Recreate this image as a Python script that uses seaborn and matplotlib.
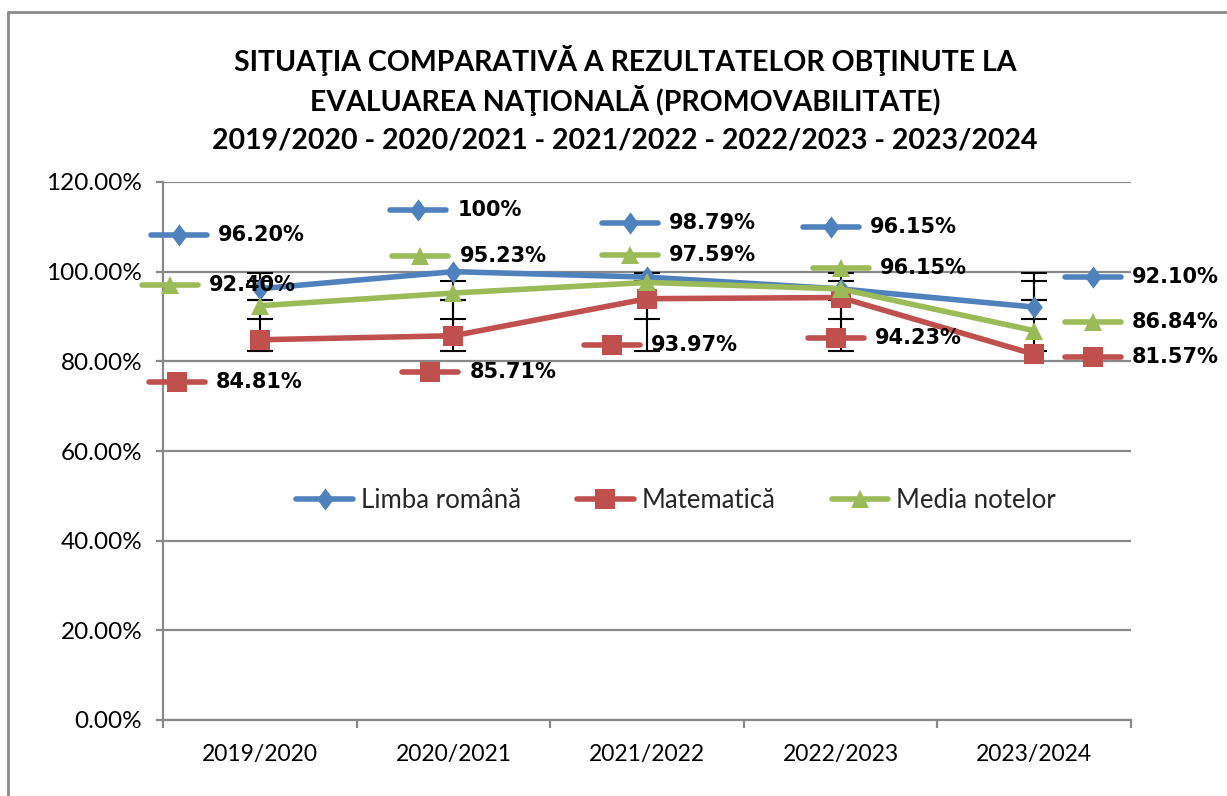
# -*- coding: utf-8 -*-

import numpy as np;
import pandas as pd;
import seaborn as sns;
import matplotlib.pyplot as plt;
from matplotlib.lines import Line2D;

#===============================================================================
# Date
ani           = ["2019/2020", "2020/2021", "2021/2022", "2022/2023", "2023/2024"];
limba_romana  = [96.20, 100.00, 98.79, 96.15, 92.10];
matematica    = [84.81, 85.71, 93.97, 94.23, 81.57];
media_notelor = [92.40, 95.23, 97.59, 96.15, 86.84];
serii         = ["Limba română", "Matematică", "Media notelor"];

titlu = ["SITUAŢIA COMPARATIVĂ A REZULTATELOR OBŢINUTE LA",
         "EVALUAREA NAŢIONALĂ (PROMOVABILITATE)",
         "2019/2020 - 2020/2021 - 2021/2022 - 2022/2023 - 2023/2024"];

#===============================================================================
# Stil
culori   = {"Limba română": "#4F81BD", "Matematică": "#C0504D", "Media notelor": "#9BBB59"};
romb     = [(0, 1), (0.75, 0), (0, -1), (-0.75, 0)];
markeri  = {"Limba română": romb, "Matematică": "s", "Media notelor": "^"};
marimi   = {"Limba română": 16, "Matematică": 15, "Media notelor": 13.5};
gri      = "#898989";
lw_serie = 4.0;

# pozitia etichetelor (pixeli, fata de punct): (dx, dy) al textului
deplasari = {
    "Limba română":  [(-42, 54), (4, 62), (22, 54), (29, 62), (98, 30)],
    "Matematică":    [(-44, -42), (16, -36), (4, -46), (34, -40), (98, -3)],
    "Media notelor": [(-51, 21), (6, 37), (22, 27), (39, 21), (98, 9)],
};

#===============================================================================
sns.set_style("white");
plt.rcParams["font.family"] = ["Lato", "DejaVu Sans"];

W, H = 1227, 796;
fig = plt.figure(figsize=(W/100, H/100), dpi=100);
ax  = fig.add_axes([163/W, 1-720/H, (1131-163)/W, (720-182)/H]);

df = pd.DataFrame({
    "idx":     list(range(len(ani)))*3,
    "valoare": limba_romana + matematica + media_notelor,
    "serie":   np.repeat(serii, len(ani)),
});

sns.lineplot(data=df, x="idx", y="valoare", hue="serie", style="serie",
             hue_order=serii, style_order=serii, palette=culori,
             markers=markeri, dashes=False, linewidth=lw_serie,
             markeredgewidth=0, legend=False, ax=ax, zorder=3);

for ln, s in zip(ax.lines, serii):
    ln.set_markersize(marimi[s]);

# bare de eroare tip Excel (deviatie standard, centrate pe media seriei)
for valori in (limba_romana, matematica, media_notelor):
    m  = np.mean(valori);
    sd = np.std(valori, ddof=1);
    ax.errorbar(range(len(ani)), [m]*len(ani), yerr=sd, fmt="none",
                ecolor="black", elinewidth=1.5, capsize=9.5, capthick=1.5, zorder=2.5);

# axe
ax.set_xlim(-0.5, len(ani)-0.5);
ax.set_ylim(0, 120);
ax.set_yticks(range(0, 121, 20));
ax.set_yticklabels([f"{v:.2f}%" for v in range(0, 121, 20)]);
ax.set_xticks(range(len(ani)));
ax.set_xticklabels(ani);
ax.set_xticks(np.arange(-0.5, len(ani), 1.0), minor=True);
ax.set_xlabel("");
ax.set_ylabel("");

ax.yaxis.grid(True, color=gri, linewidth=1.6);
ax.xaxis.grid(False);
ax.set_axisbelow(True);
for sp in ("top", "right"):
    ax.spines[sp].set_visible(False);
for sp in ("left", "bottom"):
    ax.spines[sp].set_color(gri);
    ax.spines[sp].set_linewidth(1.6);

ax.tick_params(axis="y", which="major", left=True, length=5, width=1.6, color=gri,
               labelsize=17.5, labelcolor="black", pad=10);
ax.tick_params(axis="x", which="major", bottom=True, length=0, labelsize=16.5,
               labelcolor="black", pad=17);
ax.tick_params(axis="x", which="minor", bottom=True, length=6, width=1.6, color=gri);

# legenda
handles = [Line2D([], [], color=culori[s], lw=lw_serie, marker=markeri[s],
                  markersize=marimi[s], markeredgewidth=0) for s in serii];
ax.legend(handles, serii, loc="center", bbox_to_anchor=(0.53, 0.408), ncol=3,
          frameon=False, fontsize=18.5, handlelength=2.2, handletextpad=0.3,
          columnspacing=2.2);

# etichete de date cu cheie
fig.canvas.draw();
def pix2data(x, y, dx, dy):
    px, py = ax.transData.transform((x, y));
    return ax.transData.inverted().transform((px + dx, py + dy));

for s, valori in zip(serii, (limba_romana, matematica, media_notelor)):
    for i, v in enumerate(valori):
        dx, dy = deplasari[s][i];
        tx, ty = pix2data(i, v, dx, dy);
        k0x, ky = pix2data(i, v, dx - 67, dy);
        k1x, _  = pix2data(i, v, dx - 11, dy);
        ax.plot([k0x, k1x], [ky, ky], color=culori[s], lw=lw_serie,
                solid_capstyle="round", zorder=5, clip_on=False);
        ax.plot([(k0x + k1x)/2], [ky], color=culori[s], marker=markeri[s],
                markersize=marimi[s], markeredgewidth=0, zorder=5, clip_on=False);
        eticheta = "100%" if v == 100 else f"{v:.2f}%";
        ax.text(tx, ty, eticheta, ha="left", va="center", fontsize=15,
                fontweight="bold", family="DejaVu Sans", color="black",
                zorder=6, clip_on=False);

# titlu
for y, rand in zip((61, 100, 140), titlu):
    fig.text(625/W, 1 - y/H, rand, ha="center", va="center", fontsize=20.5,
             fontweight="bold", color="black");

# chenar
fig.add_artist(Line2D([8/W, 8/W], [0, 1 - 12/H], transform=fig.transFigure, color="#8c8c8c", lw=2));
fig.add_artist(Line2D([8/W, 1], [1 - 12/H, 1 - 12/H], transform=fig.transFigure, color="#8c8c8c", lw=2));

fig.savefig("out.png", dpi=100);
plt.close(fig);
